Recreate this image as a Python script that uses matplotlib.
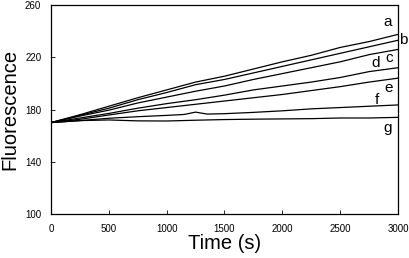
# Fluorescence vs time, curves a-g
import matplotlib
matplotlib.use("Agg")
import matplotlib.pyplot as plt

plt.rcParams['font.family'] = ['Liberation Sans', 'DejaVu Sans']

# time points (s)
time = [0, 250, 500, 750, 1000, 1250, 1500, 1750, 2000, 2250, 2500, 2750, 3000]

a = [170, 176, 182.5, 189, 195, 201, 205.5, 211, 216.5, 221.5, 227.5, 232, 237.5]
b = [170, 175.5, 181, 187.5, 193, 199, 203, 208, 213, 218, 223, 228, 233]
c = [170, 175, 179.5, 185, 189.5, 194, 198, 203, 207.5, 212, 216.5, 222, 226]
d = [170, 173.5, 177, 181, 184.5, 187.5, 191, 195, 198, 201, 204.5, 209, 212]
e = [170, 172.5, 175.8, 179, 181.5, 184, 186.5, 189, 191.5, 194.5, 197.5, 201, 204]
g = [170, 171.5, 172, 171.3, 171.2, 171.8, 172.3, 172.6, 172.8, 173, 173.5, 173.5, 174]

# f has a small bump near 1250 s
time_f = [0, 250, 500, 750, 1000, 1150, 1250, 1350, 1500, 1750, 2000, 2250, 2500, 2750, 3000]
f = [170, 171.5, 173.3, 174.5, 175.5, 176.2, 178, 176.5, 176.8, 177.8, 179, 180.5, 181.5, 182.5, 183.5]

names = ["a", "b", "c", "d", "e", "f", "g"]
label_t = [2913, 3043, 2922, 2810, 2922, 2818, 2913]
label_v = [247, 233, 219.5, 215.5, 196.5, 187.3, 165.8]

fig = plt.figure(figsize=(4.1, 2.58), dpi=100)
ax = fig.add_axes([0.1244, 0.1705, 0.8463, 0.8101])

for y in [a, b, c, d, e, g]:
    ax.plot(time, y, color="black", linewidth=0.9)
ax.plot(time_f, f, color="black", linewidth=0.9)

for n, tx, vy in zip(names, label_t, label_v):
    ax.text(tx, vy, n, fontsize=11, ha="center", va="center", clip_on=False)

ax.set_xlim(0, 3000)
ax.set_ylim(100, 260)
ax.set_xticks(range(0, 3001, 500))
ax.set_yticks(range(100, 261, 40))
ax.tick_params(direction="in", length=3, width=0.6, labelsize=7, pad=7)
for s in ax.spines.values():
    s.set_linewidth(0.9)

ax.set_xlabel("Time (s)", fontsize=14.5, labelpad=0)
ax.set_ylabel("Fluorescence", fontsize=14.5, labelpad=4)

fig.savefig("out.png", dpi=100)
